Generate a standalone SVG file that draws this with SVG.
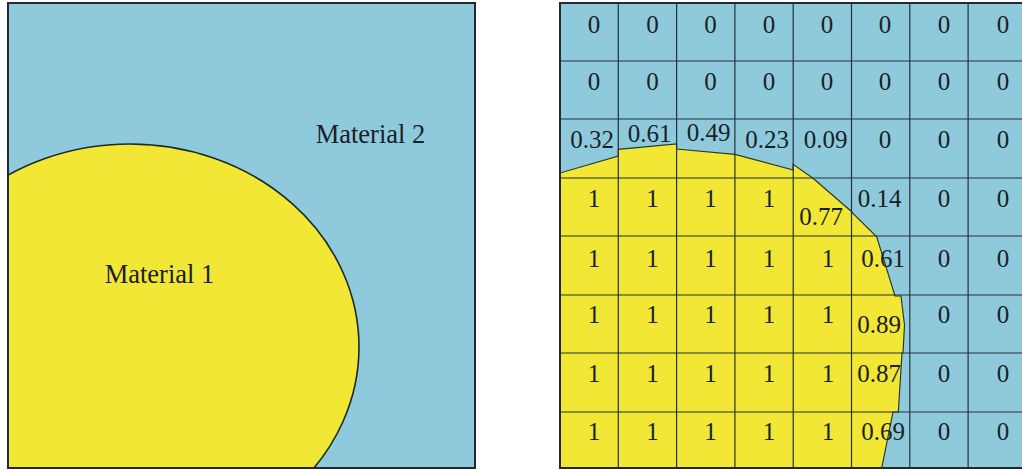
<svg xmlns="http://www.w3.org/2000/svg" width="1022" height="470" viewBox="0 0 1022 470">
<style>
.m2{fill:#8ecadb}
.m1{fill:#f1e734}
.edge{fill:none;stroke:#1c2a22;stroke-width:1.6}
.edge2{fill:none;stroke:#2a3a2a;stroke-width:1.2}
.grid{stroke:#27303a;stroke-width:1.2;fill:none}
.frame{fill:none;stroke:#222a30;stroke-width:2}
text{font-family:"Liberation Serif","DejaVu Serif",serif;fill:#1a1f26}
.lbl{font-size:26.5px;text-anchor:middle}
.v{font-size:25px;text-anchor:middle}
</style>
<defs>
<clipPath id="leftClip"><rect x="8" y="3" width="467" height="465"/></clipPath>
<clipPath id="rightClip"><rect x="560" y="3" width="470" height="465"/></clipPath>
</defs>
<rect width="1022" height="470" fill="#ffffff"/>
<g id="left-panel">
<rect class="m2" x="8" y="3" width="467" height="465"/>
<g clip-path="url(#leftClip)">
<ellipse class="m1" cx="130" cy="347" rx="229" ry="203"/>
<ellipse class="edge" cx="130" cy="347" rx="229" ry="203"/>
</g>
<rect class="frame" x="8" y="3" width="467" height="465"/>
<text id="material-2" class="lbl" x="370.5" y="142.5">Material 2</text>
<text id="material-1" class="lbl" x="159.5" y="283">Material 1</text>
</g>
<g id="right-panel">
<rect class="m2" x="560" y="3" width="470" height="465"/>
<g clip-path="url(#rightClip)">
<polygon class="m1" points="560,173 618.3,156 618.3,149.3 676.6,144 676.6,149 734.9,154.3 793.2,170 793.2,164.3 813,178.3 852,212 852.5,213 876.7,236.7 895,296 901,296 904.5,325 903,353 902,353 898.3,412 893,412 881.7,468 560,468"/>
<polyline class="edge2" points="560,173 618.3,156 618.3,149.3 676.6,144 676.6,149 734.9,154.3 793.2,170 793.2,164.3 813,178.3 852,212 852.5,213 876.7,236.7 895,296 901,296 904.5,325 903,353 902,353 898.3,412 893,412 881.7,468"/>
</g>
<g id="grid" class="grid">
<line x1="618.3" y1="3" x2="618.3" y2="468"/>
<line x1="676.6" y1="3" x2="676.6" y2="468"/>
<line x1="734.9" y1="3" x2="734.9" y2="468"/>
<line x1="793.2" y1="3" x2="793.2" y2="468"/>
<line x1="851.5" y1="3" x2="851.5" y2="468"/>
<line x1="909.8" y1="3" x2="909.8" y2="468"/>
<line x1="968.1" y1="3" x2="968.1" y2="468"/>
<line x1="560" y1="61" x2="1022" y2="61"/>
<line x1="560" y1="119" x2="1022" y2="119"/>
<line x1="560" y1="178" x2="1022" y2="178"/>
<line x1="560" y1="236" x2="1022" y2="236"/>
<line x1="560" y1="295" x2="1022" y2="295"/>
<line x1="560" y1="353" x2="1022" y2="353"/>
<line x1="560" y1="412" x2="1022" y2="412"/>
</g>
<path class="frame" d="M1024,3 H560 V468 H1024"/>
<g id="values">
<g id="row1">
<text class="v" x="594" y="33">0</text><text class="v" x="652.5" y="33">0</text><text class="v" x="710.5" y="33">0</text><text class="v" x="769" y="33">0</text><text class="v" x="827" y="33">0</text><text class="v" x="885" y="33">0</text><text class="v" x="944" y="33">0</text><text class="v" x="1003" y="33">0</text>
</g>
<g id="row2">
<text class="v" x="594" y="90">0</text><text class="v" x="652.5" y="90">0</text><text class="v" x="710.5" y="90">0</text><text class="v" x="769" y="90">0</text><text class="v" x="827" y="90">0</text><text class="v" x="885" y="90">0</text><text class="v" x="944" y="90">0</text><text class="v" x="1003" y="90">0</text>
</g>
<g id="row3">
<text class="v" x="592" y="148">0.32</text><text class="v" x="649.7" y="141.5">0.61</text><text class="v" x="708.7" y="140.5">0.49</text><text class="v" x="767" y="148">0.23</text><text class="v" x="825.5" y="148">0.09</text><text class="v" x="885" y="148">0</text><text class="v" x="944" y="148">0</text><text class="v" x="1003" y="148">0</text>
</g>
<g id="row4">
<text class="v" x="594" y="206.5">1</text><text class="v" x="652.5" y="206.5">1</text><text class="v" x="710.5" y="206.5">1</text><text class="v" x="769" y="206.5">1</text><text class="v" x="821" y="225">0.77</text><text class="v" x="879.7" y="206.5">0.14</text><text class="v" x="944" y="206.5">0</text><text class="v" x="1003" y="206.5">0</text>
</g>
<g id="row5">
<text class="v" x="594" y="266.5">1</text><text class="v" x="652.5" y="266.5">1</text><text class="v" x="710.5" y="266.5">1</text><text class="v" x="769" y="266.5">1</text><text class="v" x="828" y="266.5">1</text><text class="v" x="883" y="266.5">0.61</text><text class="v" x="944" y="266.5">0</text><text class="v" x="1003" y="266.5">0</text>
</g>
<g id="row6">
<text class="v" x="594" y="323">1</text><text class="v" x="652.5" y="323">1</text><text class="v" x="710.5" y="323">1</text><text class="v" x="769" y="323">1</text><text class="v" x="828" y="323">1</text><text class="v" x="879" y="333">0.89</text><text class="v" x="944" y="323">0</text><text class="v" x="1003" y="323">0</text>
</g>
<g id="row7">
<text class="v" x="594" y="381.5">1</text><text class="v" x="652.5" y="381.5">1</text><text class="v" x="710.5" y="381.5">1</text><text class="v" x="769" y="381.5">1</text><text class="v" x="828" y="381.5">1</text><text class="v" x="879" y="381.5">0.87</text><text class="v" x="944" y="381.5">0</text><text class="v" x="1003" y="381.5">0</text>
</g>
<g id="row8">
<text class="v" x="594" y="440">1</text><text class="v" x="652.5" y="440">1</text><text class="v" x="710.5" y="440">1</text><text class="v" x="769" y="440">1</text><text class="v" x="828" y="440">1</text><text class="v" x="883" y="440">0.69</text><text class="v" x="944" y="440">0</text><text class="v" x="1003" y="440">0</text>
</g>
</g>
</g>
</svg>
